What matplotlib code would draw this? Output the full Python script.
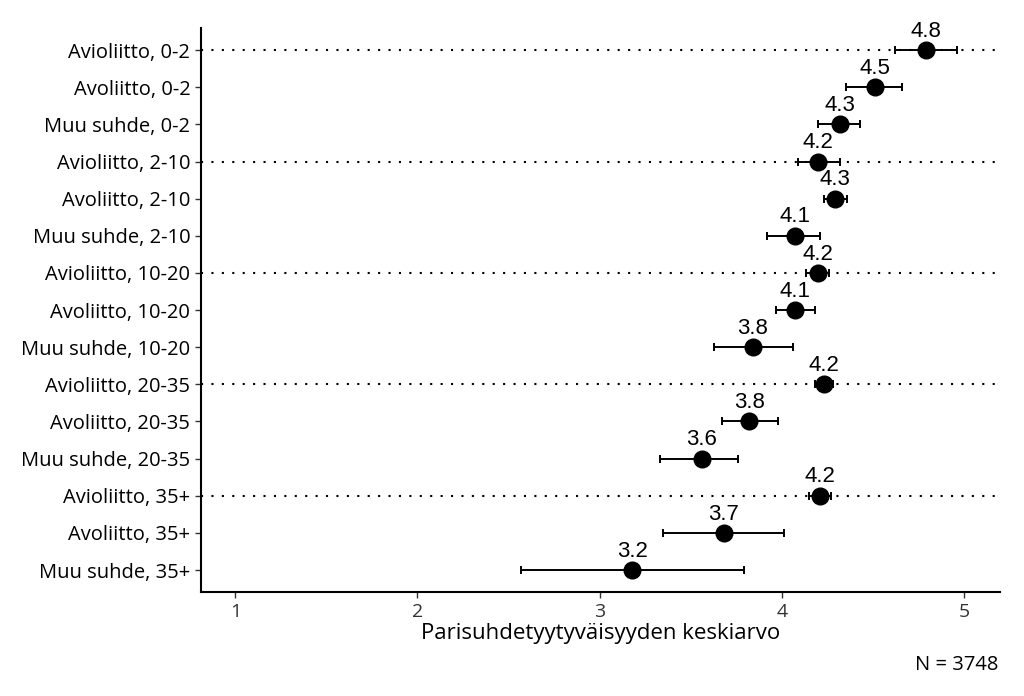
import numpy as np
import matplotlib.pyplot as plt

# Ryhmät (ylhäältä alas)
labels = ["Avioliitto, 0-2", "Avoliitto, 0-2", "Muu suhde, 0-2",
          "Avioliitto, 2-10", "Avoliitto, 2-10", "Muu suhde, 2-10",
          "Avioliitto, 10-20", "Avoliitto, 10-20", "Muu suhde, 10-20",
          "Avioliitto, 20-35", "Avoliitto, 20-35", "Muu suhde, 20-35",
          "Avioliitto, 35+", "Avoliitto, 35+", "Muu suhde, 35+"]
means = [4.79, 4.51, 4.32, 4.20, 4.29, 4.07, 4.20, 4.07, 3.84, 4.23, 3.82, 3.56, 4.21, 3.68, 3.18]
lower = [4.62, 4.35, 4.20, 4.09, 4.23, 3.92, 4.13, 3.97, 3.63, 4.18, 3.67, 3.33, 4.15, 3.35, 2.57]
upper = [4.96, 4.66, 4.43, 4.32, 4.36, 4.21, 4.26, 4.18, 4.06, 4.28, 3.98, 3.76, 4.27, 4.01, 3.79]
n_total = 3748

font = "Open Sans"
num_font = "Liberation Sans"

fig = plt.figure(figsize=(10.24, 6.96), dpi=100)
ax = fig.add_axes([0.196, 0.149, 0.781, 0.811])

y = np.arange(len(labels))
means = np.array(means)
err = [means - np.array(lower), np.array(upper) - means]

# pisteviivat avioliittoriveille
for i, lab in enumerate(labels):
    if lab.startswith("Avioliitto"):
        ax.axhline(i, color="black", lw=1.5, linestyle=(0, (1, 4)), zorder=1)

ax.errorbar(means, y, xerr=err, fmt="o", color="black", ms=12, ecolor="black",
            elinewidth=1.4, capsize=3, capthick=1.4, zorder=3)

for xi, yi in zip(means, y):
    ax.annotate(f"{xi:.1f}", (xi, yi), xytext=(0, 6), textcoords="offset points",
                ha="center", va="bottom", fontsize=16, family=num_font)

ax.set_xlim(0.81, 5.2)
ax.set_ylim(len(labels) - 0.4, -0.6)
ax.set_yticks(y)
ax.set_yticklabels(labels, family=font, fontsize=14.5)
ax.set_xticks([1, 2, 3, 4, 5])
ax.set_xticklabels(["1", "2", "3", "4", "5"], family=font, fontsize=14, color="#333333")
ax.set_xlabel("Parisuhdetyytyväisyyden keskiarvo", family=font, fontsize=16, labelpad=2)

for s in ["top", "right"]:
    ax.spines[s].set_visible(False)
for s in ["left", "bottom"]:
    ax.spines[s].set_linewidth(1.5)
ax.tick_params(axis="both", length=4, width=1, color="#333333")

fig.text(0.975, 0.03, f"N = {n_total}", ha="right", va="bottom", family=font, fontsize=14.5)

fig.savefig("out.png", dpi=100)
